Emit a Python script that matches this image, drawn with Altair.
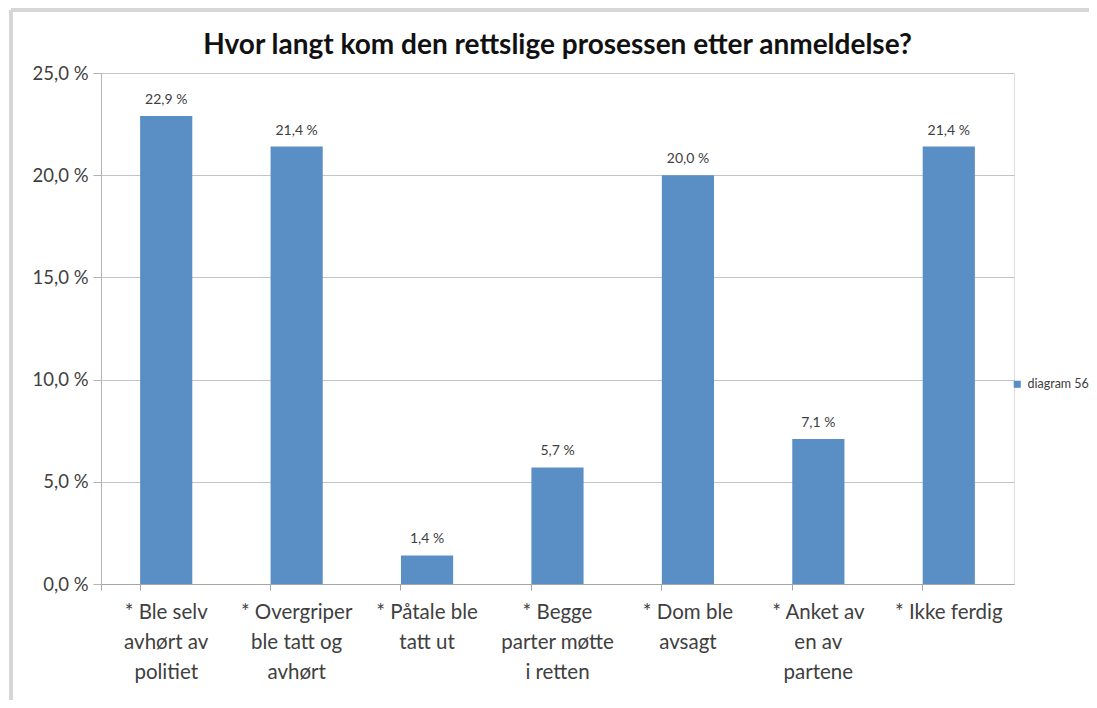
import altair as alt
import pandas as pd

categories = [
    "* Ble selv|avhørt av|politiet",
    "* Overgriper|ble tatt og|avhørt",
    "* Påtale ble|tatt ut",
    "* Begge|parter møtte|i retten",
    "* Dom ble|avsagt",
    "* Anket av|en av|partene",
    "* Ikke ferdig",
]
values = [22.9, 21.4, 1.4, 5.7, 20.0, 7.1, 21.4]
series = ["diagram 56"] * len(values)
title_text = "Hvor langt kom den rettslige prosessen etter anmeldelse?"

df = pd.DataFrame({"cat": categories, "v": values, "s": series})

FONT = "Lato"
TXT = "#404040"
BLUE = "#5A8FC6"

base = alt.Chart(df).encode(
    x=alt.X(
        "cat:N",
        sort=categories,
        scale=alt.Scale(paddingInner=0.6, paddingOuter=0.3),
        axis=alt.Axis(
            title=None,
            labelAngle=0,
            labelExpr="split(datum.label, '|')",
            labelFontSize=20.5,
            labelFont=FONT,
            labelColor=TXT,
            labelLineHeight=30,
            labelPadding=12,
            labelBaseline="top",
            bandPosition=0,
            tickSize=6,
            tickColor="#a6a6a6",
            domainColor="#a6a6a6",
            grid=False,
            labelLimit=200,
            tickExtra=True,
        ),
    ),
)

bars = base.mark_bar(color=BLUE).encode(
    y=alt.Y(
        "v:Q",
        scale=alt.Scale(domain=[0, 25], nice=False),
        axis=alt.Axis(
            title=None,
            values=[0, 5, 10, 15, 20, 25],
            labelExpr="replace(format(datum.value, '.1f'), '.', ',') + ' %'",
            labelFontSize=18.5,
            labelFont=FONT,
            labelColor=TXT,
            labelPadding=5,
            tickSize=8,
            tickColor="#b3b3b3",
            domainColor="#b3b3b3",
            gridColor="#c4c4c4",
            gridWidth=1,
        ),
    ),
    color=alt.Color(
        "s:N",
        scale=alt.Scale(range=[BLUE]),
        legend=alt.Legend(
            title=None,
            orient="none",
            legendX=910,
            legendY=305,
            symbolType="square",
            symbolSize=50,
            symbolStrokeWidth=0,
            labelFontSize=12.5,
            labelFont=FONT,
            labelColor=TXT,
            labelOffset=4,
        ),
    ),
)

labels = base.mark_text(
    baseline="bottom", dy=-9, fontSize=14, font=FONT, color=TXT
).encode(
    y="v:Q",
    text="lab:N",
).transform_calculate(
    lab="replace(format(datum.v, '.1f'), '.', ',') + ' %'"
)

frame_left = alt.Chart(df).mark_rule(color="#d6d6d6", strokeWidth=3).encode(
    x=alt.value(-90), y=alt.value(-63), y2=alt.value(700)
)
frame_top = alt.Chart(df).mark_rule(color="#d6d6d6", strokeWidth=3).encode(
    x=alt.value(-90), x2=alt.value(1000), y=alt.value(-63)
)

chart = (
    alt.layer(frame_left, frame_top, bars, labels)
    .properties(
        width=913,
        height=511,
        autosize=alt.AutoSizeParams(type="none"),
        padding={"left": 93, "top": 65, "right": 75, "bottom": 116},
        title=alt.TitleParams(
            title_text,
            fontSize=28,
            font=FONT,
            fontWeight="bold",
            color="#111111",
            anchor="middle",
            frame="group",
            offset=16,
            dy=67,
        ),
    )
    .configure_view(stroke=None)
    .configure(background="white")
)

chart.save("out.html", embed_options={"renderer": "svg", "actions": False})
